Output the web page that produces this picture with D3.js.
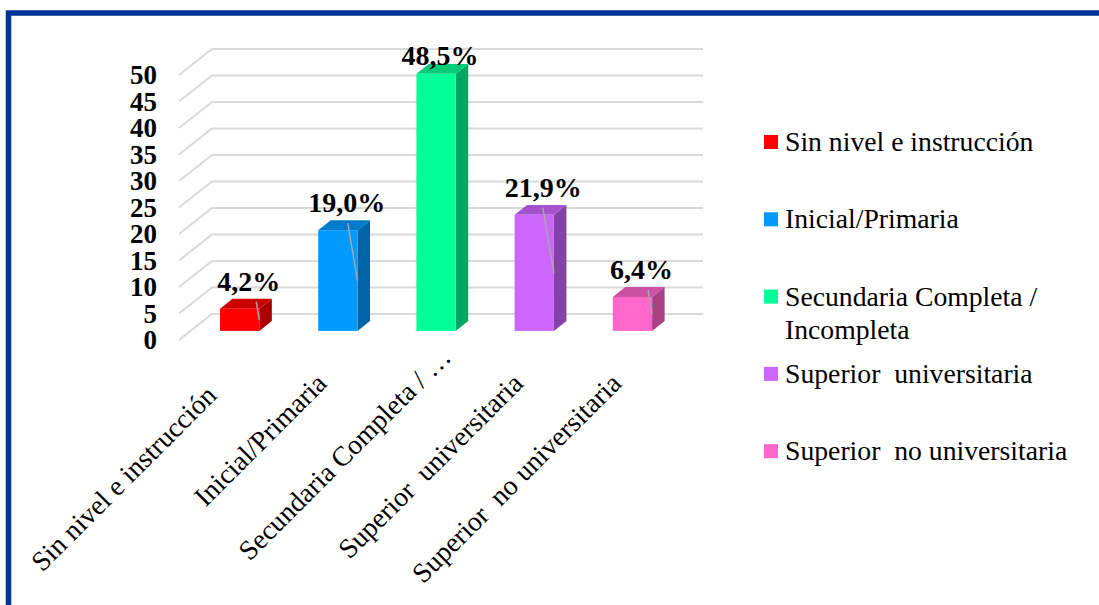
<!DOCTYPE html>
<html>
<head>
<meta charset="utf-8">
<script src="https://cdn.jsdelivr.net/npm/d3@7"></script>
<style>
  html, body { margin: 0; padding: 0; background: #ffffff; }
  svg { display: block; }
</style>
</head>
<body>
<svg id="chart" width="1099" height="605"></svg>
<script>
// Nivel de instrucción (% de encuestados)
const categories = [
  "Sin nivel e instrucción",
  "Inicial/Primaria",
  "Secundaria Completa / Incompleta",
  "Superior  universitaria",
  "Superior  no universitaria"
];
const axisLabels = [
  "Sin nivel e instrucción",
  "Inicial/Primaria",
  "Secundaria Completa / …",
  "Superior  universitaria",
  "Superior  no universitaria"
];
const values = [4.2, 19.0, 48.5, 21.9, 6.4];
const valueLabels = ["4,2%", "19,0%", "48,5%", "21,9%", "6,4%"];
const colors = ["#FF0000", "#0099FF", "#00FF99", "#CC66FF", "#FF66CC"];
const yTicks = [0, 5, 10, 15, 20, 25, 30, 35, 40, 45, 50];

const svg = d3.select("#chart");
const SERIF = "'Liberation Serif', 'Times New Roman', serif";

// Frame
svg.append("rect")
  .attr("x", 8.5).attr("y", 13)
  .attr("width", 1200).attr("height", 700)
  .attr("fill", "none")
  .attr("stroke", "#003399")
  .attr("stroke-width", 5.5);

// Oblique projection: depth vector of the floor (front -> back wall)
const depth = { dx: 33, dy: -26 };
const barDepth0 = 0.35, barDepth1 = 0.73;

// Scales on the front plane
const x = d3.scaleBand()
  .domain(categories)
  .range([179, 670])
  .paddingInner(0.6)
  .paddingOuter(0.3);
const y = d3.scaleLinear().domain([0, 50]).range([340, 75]);

// Gridlines (floor diagonal + back wall)
const grid = svg.append("g");
yTicks.forEach(v => {
  const yf = y(v);
  grid.append("path")
    .attr("d", d3.line()([
      [179, yf],
      [179 + depth.dx, yf + depth.dy],
      [670 + depth.dx, yf + depth.dy]
    ]))
    .attr("fill", "none")
    .attr("stroke", "#D9D9D9")
    .attr("stroke-width", 2);
});

// Y-axis tick labels
svg.append("g").selectAll("text")
  .data(yTicks)
  .join("text")
  .attr("x", 157)
  .attr("y", d => y(d))
  .attr("dy", "0.35em")
  .attr("text-anchor", "end")
  .attr("font-family", SERIF)
  .attr("font-weight", "bold")
  .attr("font-size", 27)
  .attr("fill", "#000")
  .text(d => d);

// 3D bars
const bars = categories.map((c, i) => {
  const off0x = barDepth0 * depth.dx, off0y = barDepth0 * depth.dy;
  const sdx = (barDepth1 - barDepth0) * depth.dx;
  const sdy = (barDepth1 - barDepth0) * depth.dy;
  const x0 = x(c) + off0x;
  const x1 = x0 + x.bandwidth();
  const top = y(values[i]) + off0y;
  const bottom = y(0) + off0y;
  return { c, i, x0, x1, top, bottom, sdx, sdy, color: colors[i] };
});

const barG = svg.append("g");
bars.forEach(b => {
  const g = barG.append("g");
  const base = d3.color(b.color);
  // side face
  g.append("polygon")
    .attr("points", [
      [b.x1, b.top], [b.x1 + b.sdx, b.top + b.sdy],
      [b.x1 + b.sdx, b.bottom + b.sdy], [b.x1, b.bottom]
    ].join(" "))
    .attr("fill", base.darker(1.2));
  // top face
  g.append("polygon")
    .attr("points", [
      [b.x0, b.top], [b.x1, b.top],
      [b.x1 + b.sdx, b.top + b.sdy], [b.x0 + b.sdx, b.top + b.sdy]
    ].join(" "))
    .attr("fill", base.darker(0.63));
  // front face
  g.append("rect")
    .attr("x", b.x0).attr("y", b.top)
    .attr("width", b.x1 - b.x0)
    .attr("height", b.bottom - b.top)
    .attr("fill", b.color);
});

// Data labels with leader lines
const plotTop = 46;
const capH = 19;
const lab = svg.append("g");
bars.forEach(b => {
  const topBack = b.top + b.sdy;
  const wanted = topBack - 8;
  const clamped = wanted < plotTop + capH;
  const baseline = clamped ? plotTop + capH : wanted;
  if (!clamped) {
    const mid = (b.top + b.bottom) / 2;
    const sy = b.top - 7;
    lab.append("line")
      .attr("x1", b.x1 - 0.17 * (mid - sy)).attr("y1", sy)
      .attr("x2", b.x1).attr("y2", mid)
      .attr("stroke", "#A6A6A6")
      .attr("stroke-width", 1.5);
  }
  lab.append("text")
    .attr("x", (b.x0 + b.x1) / 2 + (clamped ? 4 : 9))
    .attr("y", baseline)
    .attr("text-anchor", "middle")
    .attr("font-family", SERIF)
    .attr("font-weight", "bold")
    .attr("font-size", 28)
    .attr("fill", "#000")
    .text(valueLabels[b.i]);
});

// Category labels, rotated -45°, slid along their own direction where needed
const labelSlide = { 0: -17, 2: 37 };
svg.append("g").selectAll("text")
  .data(categories)
  .join("text")
  .attr("transform", (d, i) => {
    const s = (labelSlide[i] || 0) / Math.SQRT2;
    return `translate(${x(d) + x.bandwidth() / 2 + 2 + s},${385 - s}) rotate(-45)`;
  })
  .attr("text-anchor", "end")
  .attr("font-family", SERIF)
  .attr("font-size", 27.7)
  .attr("fill", "#000")
  .style("white-space", "pre")
  .text((d, i) => axisLabels[i]);

// Legend
const legend = svg.append("g");
const legendWidth = 290;
categories.forEach((c, i) => {
  const cy = 142 + 77.3 * i;
  legend.append("rect")
    .attr("x", 764).attr("y", cy - 7)
    .attr("width", 14).attr("height", 14)
    .attr("fill", colors[i]);
  const t = legend.append("text")
    .attr("x", 785).attr("y", cy + 9)
    .attr("font-family", SERIF)
    .attr("font-size", 27.7)
    .attr("fill", "#000")
    .style("white-space", "pre");
  // wrap long entries onto a second line
  const words = c.split(" ");
  let line = [];
  let tspan = t.append("tspan").attr("x", 785);
  words.forEach(w => {
    line.push(w);
    tspan.text(line.join(" "));
    if (tspan.node().getComputedTextLength() > legendWidth && line.length > 1) {
      line.pop();
      tspan.text(line.join(" "));
      line = [w];
      tspan = t.append("tspan").attr("x", 785).attr("dy", 33).text(w);
    }
  });
});
</script>
</body>
</html>
